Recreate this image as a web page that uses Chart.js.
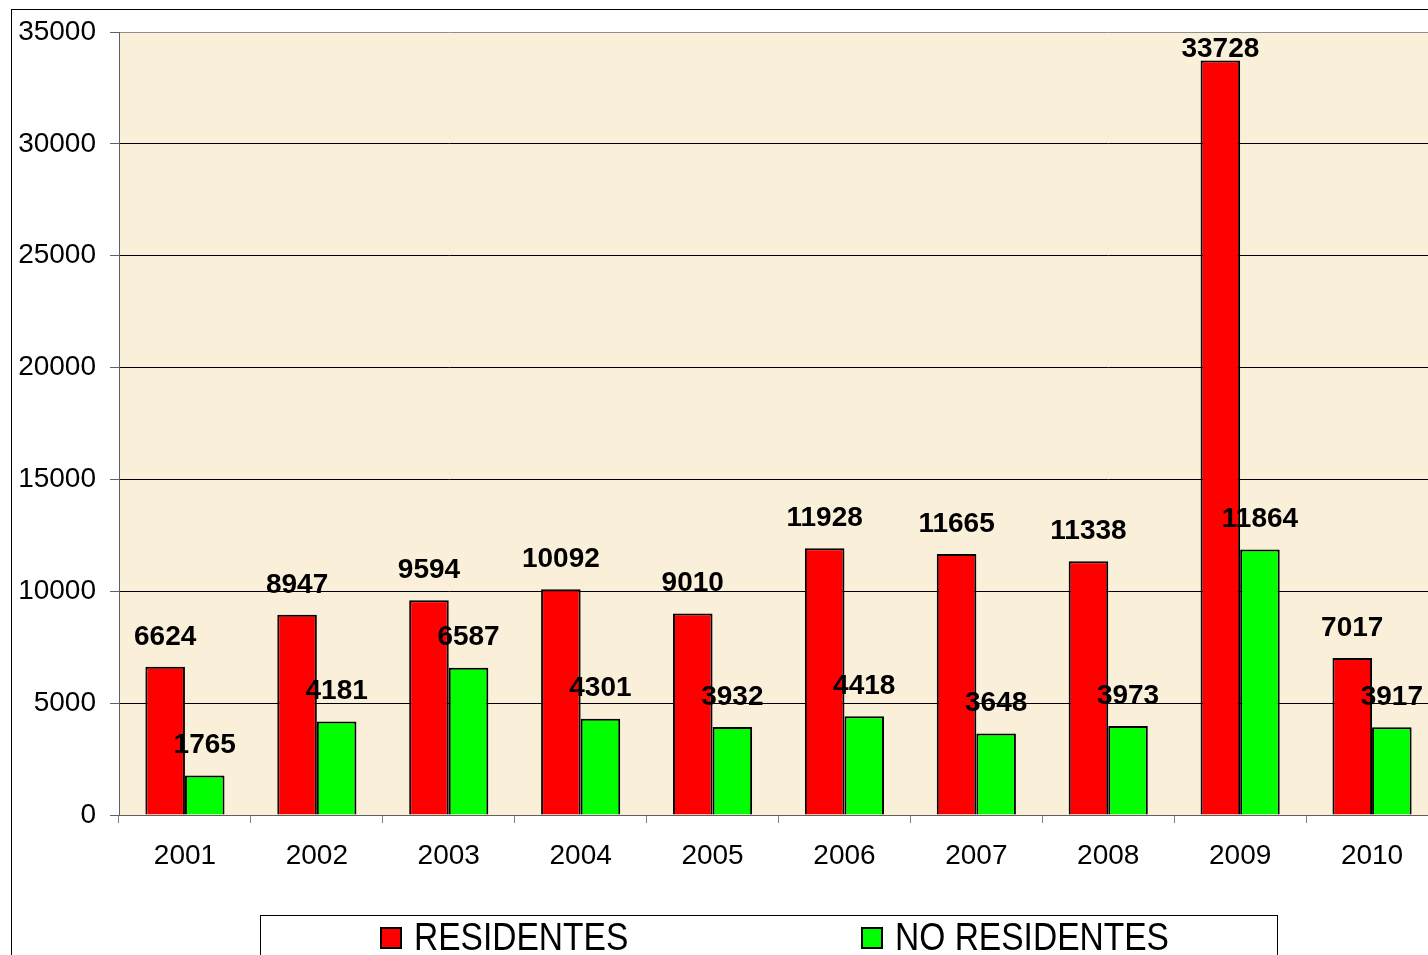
<!DOCTYPE html>
<html>
<head>
<meta charset="utf-8">
<script src="https://cdn.jsdelivr.net/npm/chart.js@4.4.0/dist/chart.umd.min.js"></script>
<style>
    html, body { margin: 0; padding: 0; background: #fff; overflow: hidden; }
    #contenedor { position: absolute; left: 0; top: 0; width: 1470px; height: 955px; }
</style>
</head>
<body>
<div id="contenedor"><canvas id="grafico"></canvas></div>
<script>
const anios = ['2001', '2002', '2003', '2004', '2005', '2006', '2007', '2008', '2009', '2010'];
const residentes = [6624, 8947, 9594, 10092, 9010, 11928, 11665, 11338, 33728, 7017];
const noResidentes = [1765, 4181, 6587, 4301, 3932, 4418, 3648, 3973, 11864, 3917];
const ejeMax = 35000;
const ejePaso = 5000;

const fuente = "'Liberation Sans', Arial, sans-serif";

// marco exterior, fondo del area de trazado
const fondo = {
    id: 'fondo',
    beforeDraw(chart) {
        const ctx = chart.ctx;
        const a = chart.chartArea;
        ctx.save();
        ctx.strokeStyle = '#000';
        ctx.lineWidth = 1;
        ctx.strokeRect(11.5, 9.5, 3000, 3000);
        ctx.fillStyle = '#FAEFD9';
        ctx.fillRect(a.left, a.top, a.right - a.left, a.bottom - a.top);
        ctx.restore();
    }
};

// etiquetas de valor sobre cada barra
const etiquetas = {
    id: 'etiquetas',
    afterDatasetsDraw(chart) {
        const ctx = chart.ctx;
        ctx.save();
        ctx.font = 'bold 28px ' + fuente;
        ctx.fillStyle = '#000';
        ctx.textAlign = 'center';
        ctx.textBaseline = 'middle';
        chart.data.datasets.forEach((ds, i) => {
            chart.getDatasetMeta(i).data.forEach((barra, j) => {
                const y = Math.max(barra.y - 30, chart.chartArea.top + 17);
                ctx.fillText(String(ds.data[j]), barra.x, y);
            });
        });
        ctx.restore();
    }
};

// leyenda con recuadro (texto estrechado)
const leyenda = {
    id: 'leyenda',
    afterDraw(chart) {
        const ctx = chart.ctx;
        ctx.save();
        ctx.fillStyle = '#fff';
        ctx.fillRect(260.5, 915.5, 1017, 60);
        ctx.strokeStyle = '#000';
        ctx.lineWidth = 1;
        ctx.strokeRect(260.5, 915.5, 1017, 60);
        const posiciones = [381, 862];
        chart.data.datasets.forEach((ds, i) => {
            const x = posiciones[i];
            ctx.fillStyle = ds.backgroundColor;
            ctx.fillRect(x, 928, 20, 20);
            ctx.strokeStyle = '#000';
            ctx.lineWidth = 2;
            ctx.strokeRect(x, 928, 20, 20);
            ctx.save();
            ctx.translate(x + 33, 939);
            ctx.scale(0.86, 1);
            ctx.font = '39px ' + fuente;
            ctx.textBaseline = 'middle';
            ctx.fillStyle = '#000';
            ctx.fillText(ds.label, 0, 0);
            ctx.restore();
        });
        ctx.restore();
    }
};

new Chart(document.getElementById('grafico'), {
    type: 'bar',
    data: {
        labels: anios,
        datasets: [
            {
                label: 'RESIDENTES',
                data: residentes,
                backgroundColor: '#FF0000',
                borderColor: '#000',
                borderWidth: 2,
                categoryPercentage: 0.6,
                barPercentage: 1
            },
            {
                label: 'NO RESIDENTES',
                data: noResidentes,
                backgroundColor: '#00FF00',
                borderColor: '#000',
                borderWidth: 2,
                categoryPercentage: 0.6,
                barPercentage: 1
            }
        ]
    },
    options: {
        responsive: true,
        maintainAspectRatio: false,
        animation: false,
        layout: { padding: { left: 0, top: 32, right: 32, bottom: 0 } },
        plugins: {
            legend: { display: false },
            tooltip: { enabled: false }
        },
        scales: {
            x: {
                grid: {
                    offset: true,
                    drawOnChartArea: false,
                    tickLength: 8,
                    color: '#808080'
                },
                border: { color: '#606060', width: 1 },
                ticks: {
                    color: '#000',
                    padding: 16,
                    font: { family: fuente, size: 28 }
                },
                afterFit(scale) { scale.height = 140; }
            },
            y: {
                min: 0,
                max: ejeMax,
                grid: {
                    color: ctx => ctx.tick && ctx.tick.value === ejeMax ? '#909090' : '#000',
                    tickColor: '#606060',
                    tickLength: 9,
                    lineWidth: 1
                },
                border: { color: '#606060', width: 1 },
                ticks: {
                    stepSize: ejePaso,
                    color: '#000',
                    padding: 14,
                    font: { family: fuente, size: 28 },
                    callback: v => String(v)
                },
                afterFit(scale) { scale.width = 119; }
            }
        }
    },
    plugins: [fondo, etiquetas, leyenda]
});
</script>
</body>
</html>
